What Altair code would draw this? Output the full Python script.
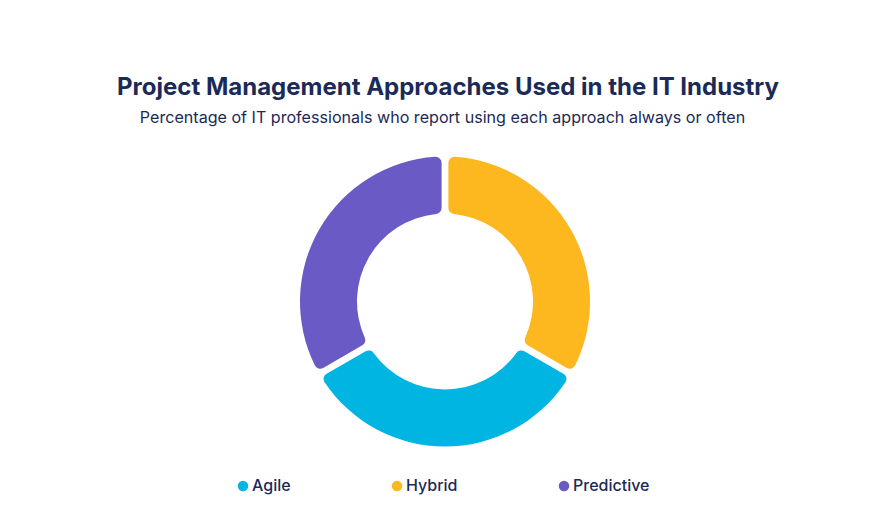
import altair as alt
import pandas as pd

# Share of IT professionals using each approach always or often
approaches = ["Agile", "Hybrid", "Predictive"]
shares = [33, 33, 33]
# Drawing order around the ring, clockwise from 12 o'clock
ring_order = [1, 0, 2]
colors = ["#00B5E2", "#FDB71F", "#6A5AC6"]

title_text = "Project Management Approaches Used in the IT Industry"
subtitle_text = "Percentage of IT professionals who report using each approach always or often"

navy = "#1B2A56"
font = "Inter"

df = pd.DataFrame({"approach": approaches, "share": shares, "pos": ring_order})

donut = (
    alt.Chart(df)
    .mark_arc(innerRadius=88, outerRadius=145, padAngle=0.04, cornerRadius=6)
    .encode(
        theta=alt.Theta("share:Q", stack=True),
        order=alt.Order("pos:Q"),
        color=alt.Color(
            "approach:N",
            scale=alt.Scale(domain=approaches, range=colors),
            legend=alt.Legend(
                title=None,
                orient="none",
                direction="horizontal",
                legendX=235,
                legendY=478,
                symbolType="circle",
                symbolSize=110,
                symbolStrokeWidth=0,
                labelFont=font,
                labelFontSize=16,
                labelFontWeight=500,
                labelColor=navy,
                labelOffset=1,
                columnPadding=98,
            ),
        ),
        x=alt.value(445),
        y=alt.value(301.5),
    )
)

titles = pd.DataFrame({"text": [title_text, subtitle_text], "kind": ["title", "subtitle"]})

title_mark = (
    alt.Chart(titles)
    .transform_filter(alt.datum.kind == "title")
    .mark_text(font=font, fontSize=24, fontWeight="bold", color=navy, align="center", baseline="middle")
    .encode(text="text:N", x=alt.value(448), y=alt.value(88))
)

subtitle_mark = (
    alt.Chart(titles)
    .transform_filter(alt.datum.kind == "subtitle")
    .mark_text(font=font, fontSize=16.1, color=navy, align="center", baseline="middle")
    .encode(text="text:N", x=alt.value(442.5), y=alt.value(118))
)

chart = (
    alt.layer(donut, title_mark, subtitle_mark)
    .properties(width=890, height=526, autosize=alt.AutoSizeParams(type="none"), padding=0, background="white")
    .configure_view(stroke=None)
)

chart.save("out.html", embed_options={"renderer": "svg", "actions": False})
